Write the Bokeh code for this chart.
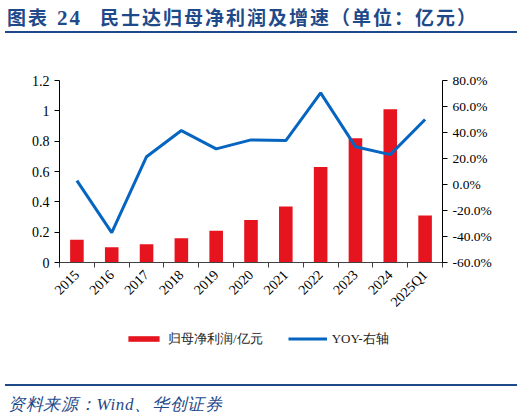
from bokeh.plotting import figure
from bokeh.layouts import column
from bokeh.models import (Range1d, LinearAxis, FixedTicker, Legend, LegendItem,
                          ColumnDataSource, Div)
from bokeh.embed import file_html
from bokeh.resources import INLINE
import math

categories = ['2015', '2016', '2017', '2018', '2019', '2020', '2021', '2022', '2023', '2024', '2025Q1']
profit = [0.15, 0.10, 0.12, 0.16, 0.21, 0.28, 0.37, 0.63, 0.82, 1.01, 0.31]
yoy = [3.0, -37.0, 21.4, 41.5, 27.4, 34.3, 33.8, 70.5, 29.1, 23.0, 50.0]
left_ticks = [0, 0.2, 0.4, 0.6, 0.8, 1.0, 1.2]
left_labels = ['0', '0.2', '0.4', '0.6', '0.8', '1', '1.2']
right_ticks = [-60, -40, -20, 0, 20, 40, 60, 80]

RED = '#E6141E'
BLUE = '#0565C0'
NAVY = '#1F4A8A'
SERIF = 'Liberation Serif'
W = 520

x_pos = [i + 0.5 for i in range(len(categories))]
source = ColumnDataSource(data=dict(x=x_pos, profit=profit, yoy=yoy))

title = Div(width=W, height=40, margin=0, text=(
    f'<div style="margin-left:5px;width:512px;height:33px;line-height:33px;padding-bottom:5px;'
    f'border-bottom:2px solid {NAVY};color:{NAVY};font-family:\'Noto Sans CJK SC\';'
    f'font-weight:bold;font-size:19px;letter-spacing:2px;white-space:nowrap;">'
    f'<span style="margin-left:2px;">图表</span>'
    f'<span style="margin-left:8px;font-family:\'Liberation Serif\';font-size:21px;">24</span>'
    f'<span style="margin-left:18px;">民士达归母净利润及增速（单位：亿元）</span></div>'))

p = figure(width=W, height=280, output_backend='svg', toolbar_location=None, margin=0,
           x_range=Range1d(0, len(categories)), y_range=Range1d(0, 1.2),
           min_border_left=59, min_border_right=W - 59 - 383, min_border_top=40, min_border_bottom=58,
           outline_line_color=None, background_fill_color='white', border_fill_color='white')
p.xgrid.visible = False
p.ygrid.visible = False
p.extra_y_ranges = {'yoy': Range1d(-60, 80)}

# x axis: labels at centres, ticks at category boundaries
p.xaxis.ticker = FixedTicker(ticks=x_pos, minor_ticks=list(range(len(categories) + 1)))
p.xaxis.major_label_overrides = {x: c for x, c in zip(x_pos, categories)}
p.xaxis.major_label_orientation = math.pi / 4
p.xaxis.major_tick_line_color = None
p.xaxis.minor_tick_line_color = '#404040'
p.xaxis.minor_tick_out = 5
p.xaxis.minor_tick_in = 0
p.xaxis.axis_line_color = '#404040'
p.xaxis.major_label_text_font = SERIF
p.xaxis.major_label_text_font_size = '14px'
p.xaxis.major_label_text_color = 'black'
p.xaxis.major_label_standoff = 4

p.yaxis.ticker = FixedTicker(ticks=left_ticks)
p.yaxis.major_label_overrides = {t: s for t, s in zip(left_ticks, left_labels)}
p.yaxis.minor_tick_line_color = None
p.yaxis.major_tick_out = 5
p.yaxis.major_tick_in = 0
p.yaxis.axis_line_color = 'black'
p.yaxis.major_tick_line_color = 'black'
p.yaxis.major_label_text_font = SERIF
p.yaxis.major_label_text_font_size = '14px'
p.yaxis.major_label_text_color = 'black'
p.yaxis.major_label_standoff = 5

right = LinearAxis(y_range_name='yoy', ticker=FixedTicker(ticks=right_ticks),
                   major_label_overrides={t: f'{t:.1f}%' for t in right_ticks},
                   minor_tick_line_color=None, major_tick_out=5, major_tick_in=0,
                   axis_line_color='black', major_tick_line_color='black',
                   major_label_text_font=SERIF, major_label_text_font_size='13.5px',
                   major_label_text_color='black', major_label_standoff=5)
p.add_layout(right, 'right')

p.vbar(x='x', top='profit', width=0.39, bottom=0, source=source,
       fill_color=RED, line_color=None)
p.line(x='x', y='yoy', source=source, y_range_name='yoy',
       line_color=BLUE, line_width=3)

# legend strip below the chart; its glyphs draw the same data outside its visible range
lg = figure(width=W, height=42, output_backend='svg', toolbar_location=None, margin=0,
            x_axis_type=None, y_axis_type=None,
            x_range=Range1d(0, len(categories)), y_range=Range1d(500, 501),
            min_border=0, min_border_left=0, min_border_right=0, min_border_top=0, min_border_bottom=0,
            outline_line_color=None, background_fill_color='white', border_fill_color='white')
lg.xgrid.visible = False
lg.ygrid.visible = False
bar_key = lg.vbar(x='x', top='profit', width=0.39, bottom=0, source=source,
                  fill_color=RED, line_color=None)
line_key = lg.line(x='x', y='yoy', source=source, line_color=BLUE, line_width=3)
legend = Legend(items=[LegendItem(label='归母净利润/亿元', renderers=[bar_key]),
                       LegendItem(label='YOY-右轴', renderers=[line_key])],
                location=(65, 14.5), orientation='horizontal',
                margin=0, padding=0, spacing=25, glyph_width=39, glyph_height=7,
                label_standoff=5, label_height=14,
                label_text_font=SERIF, label_text_font_size='13px',
                label_text_color='#222222',
                border_line_color=None, background_fill_alpha=0)
lg.add_layout(legend, 'center')

note = Div(width=W, height=55, margin=0, text=(
    f'<div style="margin-left:5px;margin-top:22px;width:512px;padding-top:6px;line-height:25px;'
    f'border-top:2px solid {NAVY};color:{NAVY};font-family:\'Liberation Serif\';'
    f'font-style:italic;font-size:17px;letter-spacing:0.7px;white-space:nowrap;">'
    f'<span style="margin-left:3px;">资料来源：Wind、华创证券</span></div>'))

layout = column(title, p, lg, note, spacing=0)
open('out.html', 'w').write(file_html(layout, INLINE))
